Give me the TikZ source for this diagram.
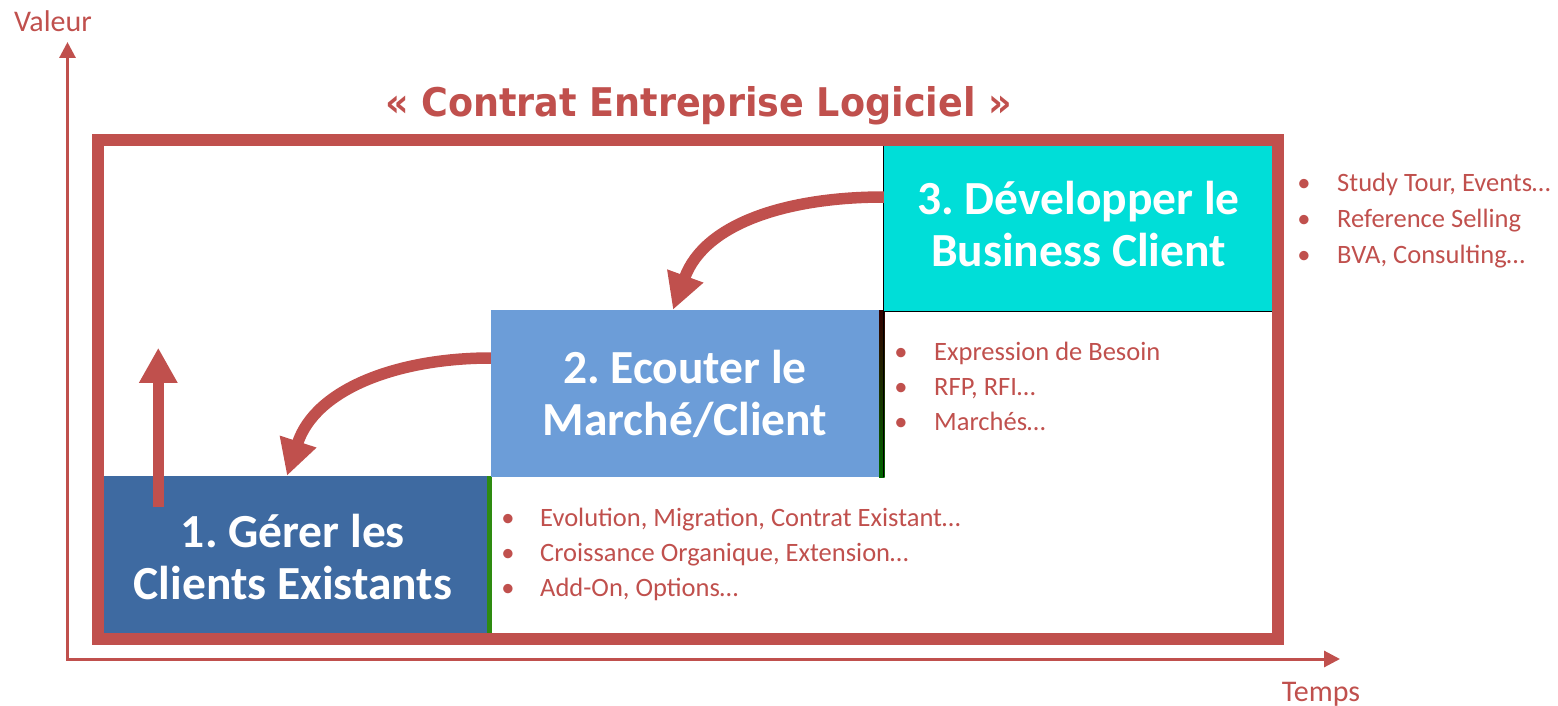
\documentclass[tikz,border=0pt]{standalone}
\usepackage{fontspec}
\setmainfont{Carlito}
\newfontfamily\titlefont{DejaVu Sans}
\usetikzlibrary{arrows.meta}
\frenchspacing
\definecolor{cred}{HTML}{C0504D}
\definecolor{cbA}{HTML}{3E6AA1}
\definecolor{cbB}{HTML}{6C9DD8}
\definecolor{cbC}{HTML}{00DED8}
\definecolor{cgreen}{HTML}{2E8B10}
\tikzset{
  axisline/.style={draw=cred, line width=3pt,
    {Triangle[width=16pt,length=16pt]}-{Triangle[width=16pt,length=16pt]}},
  axislabel/.style={text=cred, font=\fontsize{30}{36}\selectfont, anchor=base, inner sep=0},
  framebox/.style={draw=cred, line width=12pt},
  stagebox/.style={inner sep=0, draw=none},
  stagetext/.style={text=white, font=\bfseries\fontsize{47.5}{51.5}\selectfont, align=center, inner sep=0},
  bigarrow/.style={draw=cred, line width=11.5pt, -{Triangle[width=36pt,length=36pt]}},
  lst/.style={text=cred, font=\fontsize{26.5}{34}\selectfont, anchor=base west, inner sep=0},
  bul/.style={text=cred, font=\fontsize{26.5}{34}\selectfont, anchor=base, inner sep=0},
}
\begin{document}
\begin{tikzpicture}[x=1pt,y=-1pt]
\useasboundingbox (0,0) rectangle (1558,706);
% axes
\coordinate (ytip) at (67.5,42);
\coordinate (xtip) at (1340,659);
\draw[axisline] (ytip) |- (xtip);
\node[axislabel] (val) at (53,32) {Valeur};
\node[axislabel] (tps) at (1321,701) {Temps};
% title
\node[text=cred, anchor=base, inner sep=0] (title) at (698.5,117)
  {\resizebox{627pt}{\height}{\titlefont\bfseries\fontsize{39.5}{44}\selectfont « Contrat Entreprise Logiciel »}};
% frame
\draw[framebox] (98,140) rectangle (1278,638.5);
% photo strips
\fill[cgreen] (487,476) rectangle (491.5,633);
\shade[top color=black!80!red, bottom color=green!40!black] (879,310) rectangle (884.5,477);
% stage boxes
\node[stagebox, fill=cbA, minimum width=383pt, minimum height=157pt] (b1) at (295.5,554.5) {};
\node[stagebox, fill=cbB, minimum width=388pt, minimum height=167pt] (b2) at (685,393.5) {};
\node[stagebox, fill=cbC, minimum width=388pt, minimum height=165pt] (b3) at (1078,228.5) {};
\draw[black, line width=1pt] (b3.north west) -- ([yshift=-165.5pt]b3.south west);
\draw[black, line width=1pt] (b3.south west) -- (b3.south east);
\node[stagetext] (t1) at (293,557) {1. Gérer les\\Clients Existants};
\node[stagetext] (t2) at (685,394) {2. Ecouter le\\Marché/Client};
\node[stagetext] (t3) at (1078.5,224) {3. Développer le\\Business Client};
% arrows
\draw[bigarrow] ([yshift=35.5pt]b2.west) to[out=180,in=72] ([xshift=-8.5pt]b1.north);
\draw[bigarrow] ([yshift=31.5pt]b3.west) to[out=180,in=70] ([xshift=-12pt]b2.north);
\coordinate (ua) at ([xshift=54.5pt,yshift=-31pt]b1.north west);
\coordinate (ub) at ([xshift=54.5pt,yshift=128pt]b1.north west);
\draw[bigarrow, line width=11pt, -{Triangle[width=36pt,length=35pt]}] (ua) -- (ub);
% bullet lists
\foreach \i/\y/\t in {1/526/{Evolution, Migration, Contrat Existant…},
                      2/561/{Croissance Organique, Extension…},
                      3/596/{Add-On, Options…}}{
  \node[bul] (ba\i) at (508,\y) {•};
  \node[lst] (la\i) at (540,\y) {\t};
}
\foreach \i/\y/\t in {1/360/{Expression de Besoin},
                      2/395/{RFP, RFI…},
                      3/430/{Marchés…}}{
  \node[bul] (bb\i) at (901,\y) {•};
  \node[lst] (lb\i) at (934,\y) {\t};
}
\foreach \i/\y/\t in {1/191/{Study Tour, Events…},
                      2/227/{Reference Selling},
                      3/263/{BVA, Consulting…}}{
  \node[bul] (bc\i) at (1304,\y) {•};
  \node[lst] (lc\i) at (1337,\y) {\t};
}
\end{tikzpicture}
\end{document}
